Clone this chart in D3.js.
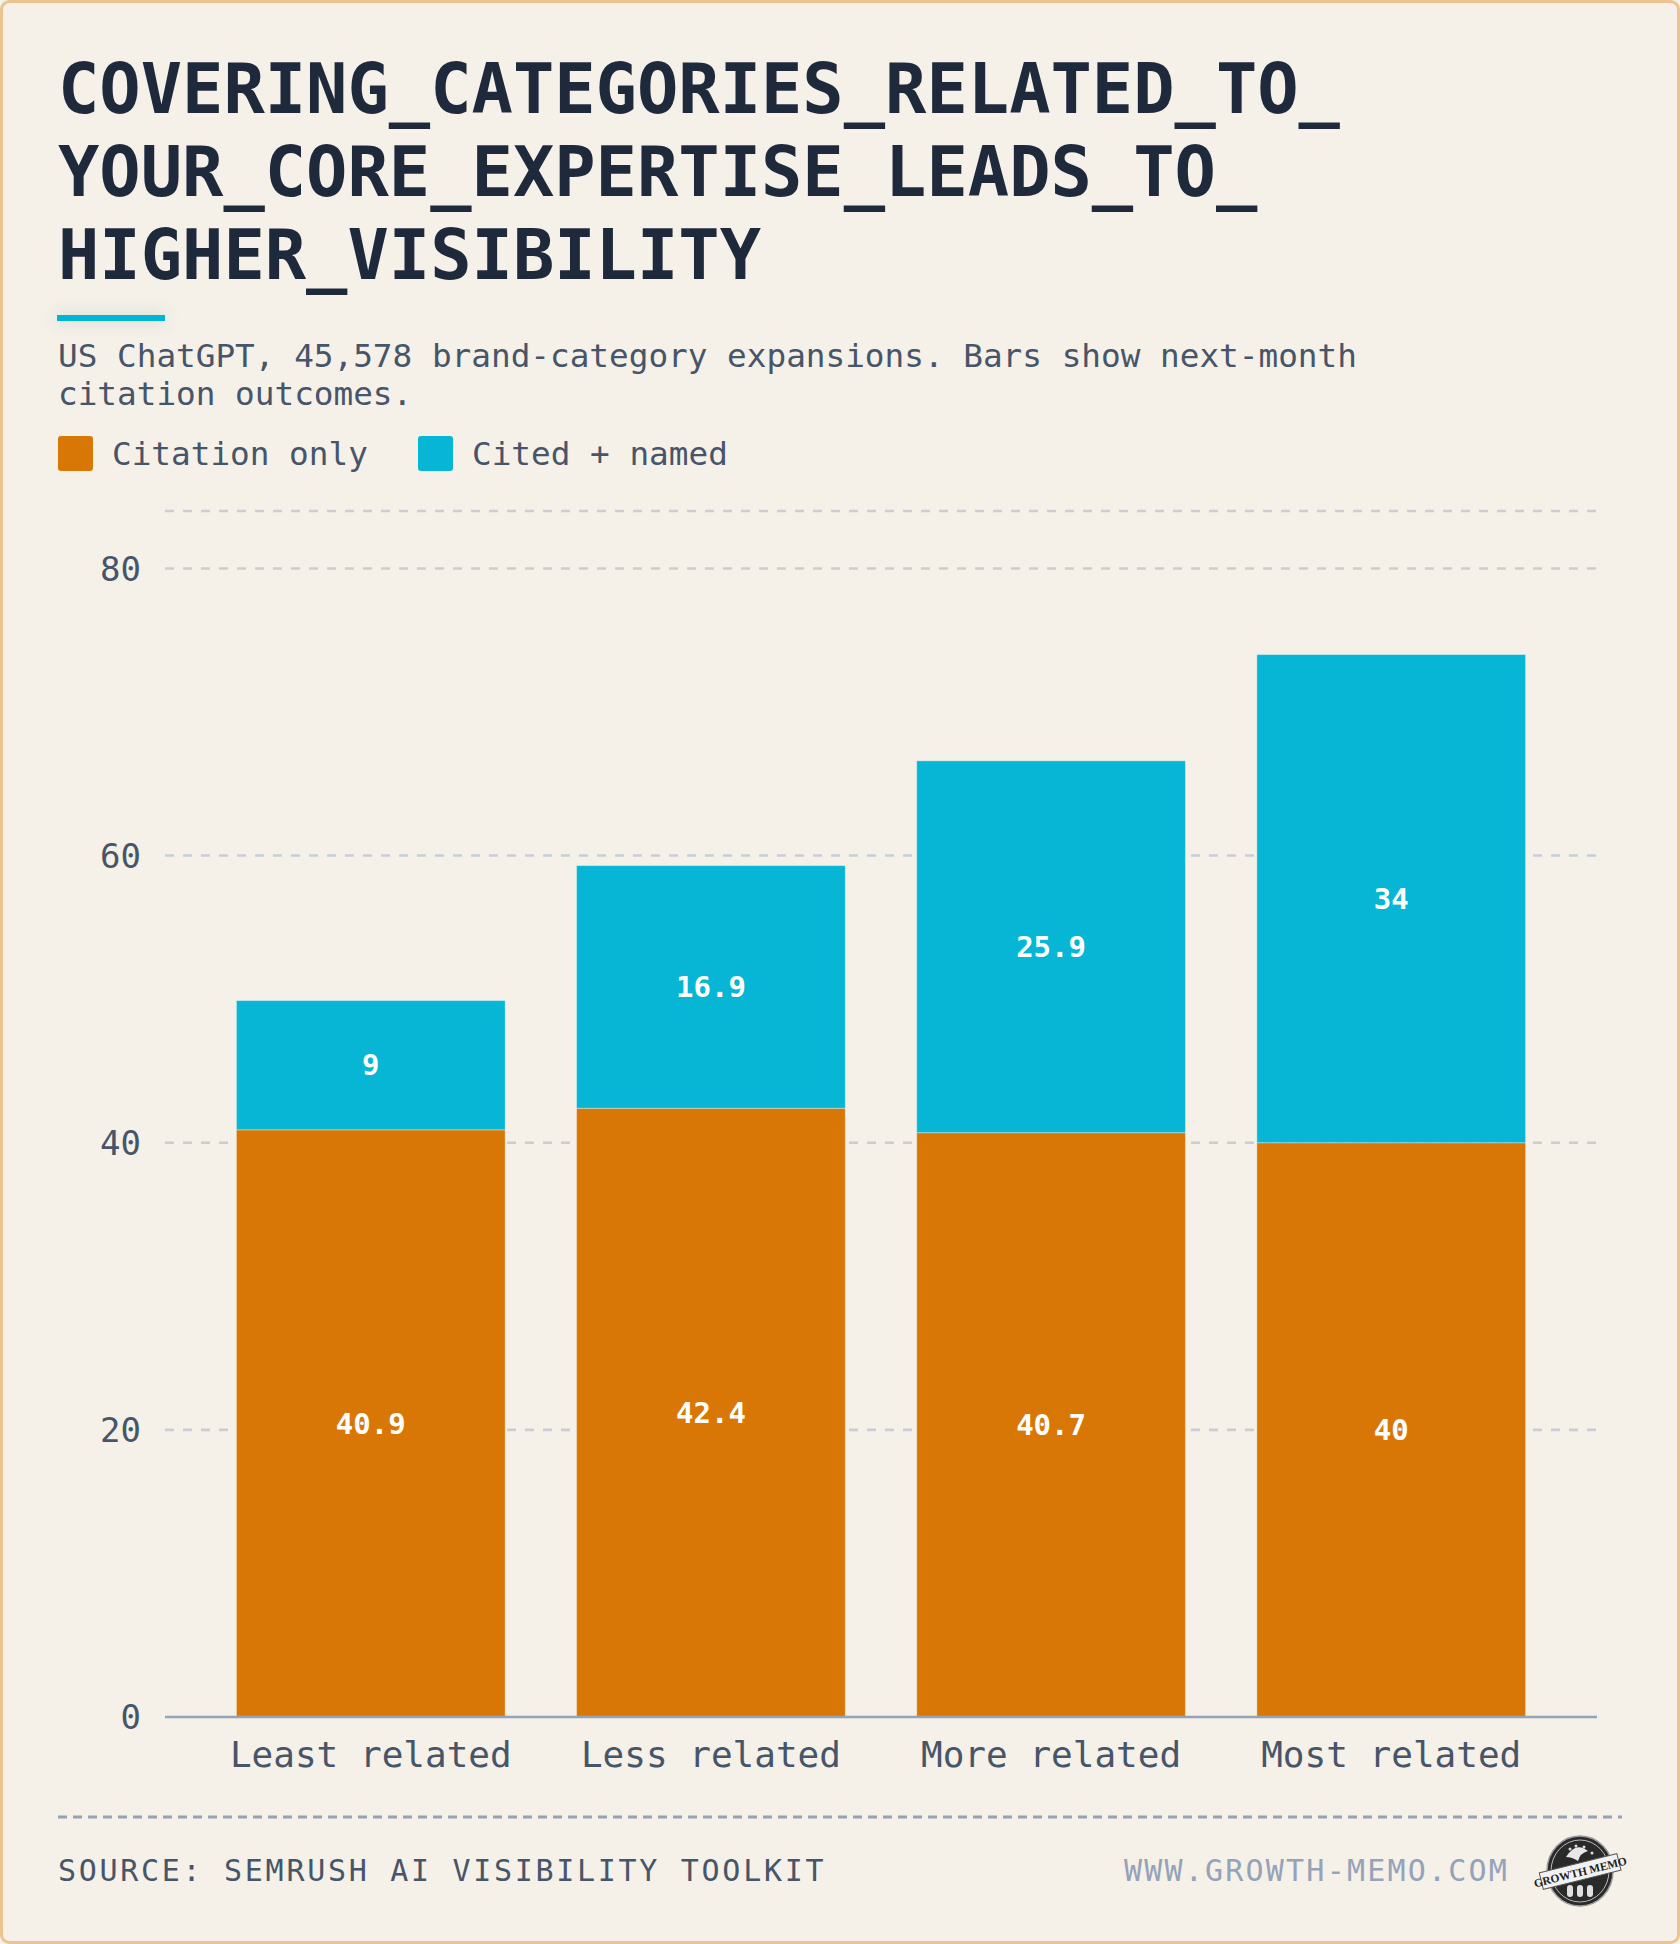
<!DOCTYPE html>
<html>
<head>
<meta charset="utf-8">
<script src="https://cdn.jsdelivr.net/npm/d3@7"></script>
<style>
  html, body { margin: 0; padding: 0; background: #F5F0E8; }
  svg { display: block; }
</style>
</head>
<body>
<div id="chart"></div>
<script>
// ---- data ----
const titleLines = ["COVERING_CATEGORIES_RELATED_TO_", "YOUR_CORE_EXPERTISE_LEADS_TO_", "HIGHER_VISIBILITY"];
const subtitleLines = ["US ChatGPT, 45,578 brand-category expansions. Bars show next-month", "citation outcomes."];
const categories = ["Least related", "Less related", "More related", "Most related"];
const seriesNames = ["Citation only", "Cited + named"];
const citationOnly = [40.9, 42.4, 40.7, 40];
const citedNamed = [9, 16.9, 25.9, 34];
const yTicks = [0, 20, 40, 60, 80];
const yMax = 84;
const sourceText = "SOURCE: SEMRUSH AI VISIBILITY TOOLKIT";
const siteText = "WWW.GROWTH-MEMO.COM";

// ---- styles ----
const W = 1680, H = 1944;
const FONT = "'DejaVu Sans Mono', monospace";
const colors = ["#D97706", "#06B6D4"];
const bg = "#F5F0E8";

const svg = d3.select("#chart").append("svg")
  .attr("width", W).attr("height", H)
  .attr("viewBox", `0 0 ${W} ${H}`);

const defs = svg.append("defs");
const glow = defs.append("filter").attr("id", "glow")
  .attr("x", "-50%").attr("y", "-400%").attr("width", "200%").attr("height", "900%");
glow.append("feDropShadow").attr("dx", 0).attr("dy", 0).attr("stdDeviation", 8)
  .attr("flood-color", "#1f6f72").attr("flood-opacity", 0.22);

// background + border
svg.append("rect").attr("x", 1.5).attr("y", 1.5).attr("width", W - 3).attr("height", H - 3)
  .attr("rx", 8).attr("fill", bg).attr("stroke", "#EDC391").attr("stroke-width", 3);

// title
svg.append("g").selectAll("text").data(titleLines).join("text")
  .attr("x", 58).attr("y", (d, i) => 113 + i * 83)
  .attr("font-family", FONT).attr("font-weight", "bold").attr("font-size", 68.7)
  .attr("fill", "#1E293B").text(d => d);

// accent line
svg.append("rect").attr("x", 57).attr("y", 315).attr("width", 108).attr("height", 6)
  .attr("fill", "#06B6D4").attr("filter", "url(#glow)");

// subtitle
svg.append("g").selectAll("text").data(subtitleLines).join("text")
  .attr("x", 58).attr("y", (d, i) => 367 + i * 38)
  .attr("font-family", FONT).attr("font-size", 32.7)
  .attr("fill", "#475569").text(d => d);

// legend
const legendX = [58, 418];
const lg = svg.append("g").selectAll("g").data(seriesNames).join("g")
  .attr("transform", (d, i) => `translate(${legendX[i]},436)`);
lg.append("rect").attr("width", 35).attr("height", 35).attr("rx", 3)
  .attr("fill", (d, i) => colors[i]);
lg.append("text").attr("x", 54).attr("y", 29)
  .attr("font-family", FONT).attr("font-size", 32.7).attr("fill", "#475569")
  .text(d => d);

// scales
const x = d3.scaleBand().domain(categories).range([165, 1597]).padding(0.21);
const y = d3.scaleLinear().domain([0, yMax]).range([1717, 511]);

// gridlines
const gridVals = yTicks.filter(v => v > 0).concat([yMax]);
svg.append("g").selectAll("line").data(gridVals).join("line")
  .attr("x1", 165).attr("x2", 1597)
  .attr("y1", d => y(d)).attr("y2", d => y(d))
  .attr("stroke", "#C9CED4").attr("stroke-width", 2.6).attr("stroke-dasharray", "9,9");

// y axis labels
const yAxis = d3.axisLeft(y).tickValues(yTicks).tickSize(0).tickPadding(0).tickFormat(d3.format("d"));
const yg = svg.append("g").attr("transform", "translate(141,0)").call(yAxis);
yg.select(".domain").remove();
yg.selectAll("text").attr("font-family", FONT).attr("font-size", 34)
  .attr("fill", "#475569").attr("dy", "0.35em");

// stacked bars
const rows = categories.map((c, i) => ({ cat: c, a: citationOnly[i], b: citedNamed[i] }));
const stack = d3.stack().keys(["a", "b"])(rows);
const layers = svg.append("g").selectAll("g").data(stack).join("g")
  .attr("fill", (d, i) => colors[i]);
layers.selectAll("rect").data(d => d).join("rect")
  .attr("x", d => x(d.data.cat)).attr("width", x.bandwidth())
  .attr("y", d => y(d[1])).attr("height", d => y(d[0]) - y(d[1]))
  .attr("stroke", "rgba(255,255,255,0.35)").attr("stroke-width", 1);

// segment labels
const lbl = svg.append("g");
stack.forEach(layer => {
  lbl.selectAll(null).data(layer).join("text")
    .attr("x", d => x(d.data.cat) + x.bandwidth() / 2)
    .attr("y", d => y((d[0] + d[1]) / 2))
    .attr("dy", "0.35em").attr("text-anchor", "middle")
    .attr("font-family", FONT).attr("font-weight", "bold").attr("font-size", 29)
    .attr("fill", "#ffffff")
    .text(d => String(+(d[1] - d[0]).toFixed(1)));
});

// baseline
svg.append("line").attr("x1", 165).attr("x2", 1597).attr("y1", y(0)).attr("y2", y(0))
  .attr("stroke", "#94A3B8").attr("stroke-width", 2.5);

// x axis labels
const xAxis = d3.axisBottom(x).tickSize(0).tickPadding(0);
const xg = svg.append("g").attr("transform", `translate(0,${y(0)})`).call(xAxis);
xg.select(".domain").remove();
xg.selectAll("text").attr("font-family", FONT).attr("font-size", 36)
  .attr("fill", "#475569").attr("dy", null).attr("y", 50);

// footer divider
svg.append("line").attr("x1", 58).attr("x2", 1622).attr("y1", 1817).attr("y2", 1817)
  .attr("stroke", "#94A3B8").attr("stroke-width", 3).attr("stroke-dasharray", "9,6");

svg.append("text").attr("x", 58).attr("y", 1881)
  .attr("font-family", FONT).attr("font-size", 30).attr("letter-spacing", 2.7)
  .attr("fill", "#475569").text(sourceText);

svg.append("text").attr("x", 1509).attr("y", 1881).attr("text-anchor", "end")
  .attr("font-family", FONT).attr("font-size", 30).attr("letter-spacing", 2.2)
  .attr("fill", "#94A3B8").text(siteText);

// logo badge
const logo = svg.append("g").attr("transform", "translate(1580,1871)");
logo.append("ellipse").attr("rx", 33).attr("ry", 35).attr("fill", "#2a2a2a")
  .attr("stroke", "#9a9a9a").attr("stroke-width", 1.5);
logo.append("ellipse").attr("rx", 29).attr("ry", 31).attr("fill", "none")
  .attr("stroke", "#dcdcdc").attr("stroke-width", 0.8);
logo.append("path").attr("d", "M-14,-14 q10,-16 22,-6 q-8,2 -10,10 q-6,-4 -12,-4z")
  .attr("fill", "#e8e8e8");
[[-10,-22],[-4,-25],[4,-24],[12,-18],[16,-10]].forEach(p => {
  logo.append("circle").attr("cx", p[0]).attr("cy", p[1]).attr("r", 1.5).attr("fill", "#ddd");
});
const rib = logo.append("g").attr("transform", "rotate(-14)");
rib.append("rect").attr("x", -40).attr("y", -8).attr("width", 80).attr("height", 17)
  .attr("fill", "#f2f2f2").attr("stroke", "#555").attr("stroke-width", 1);
rib.append("text").attr("x", 0).attr("y", 5).attr("text-anchor", "middle")
  .attr("font-family", "'Liberation Serif', serif").attr("font-weight", "bold")
  .attr("font-size", 11.5).attr("fill", "#222").text("GROWTH MEMO");
[-10, 0, 10].forEach(cx => {
  logo.append("rect").attr("x", cx - 3).attr("y", 14).attr("width", 6).attr("height", 12)
    .attr("rx", 3).attr("fill", "#e0e0e0");
});
</script>
</body>
</html>
